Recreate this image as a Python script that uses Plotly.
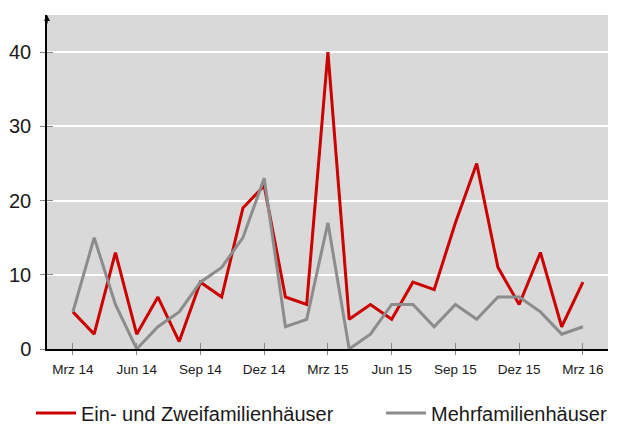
import plotly.graph_objects as go

months = list(range(25))
tick_pos = [0, 3, 6, 9, 12, 15, 18, 21, 24]
tick_labels = ["Mrz 14", "Jun 14", "Sep 14", "Dez 14", "Mrz 15", "Jun 15", "Sep 15", "Dez 15", "Mrz 16"]
ein_zwei = [5, 2, 13, 2, 7, 1, 9, 7, 19, 22, 7, 6, 40, 4, 6, 4, 9, 8, 17, 25, 11, 6, 13, 3, 9]
mehr = [5, 15, 6, 0, 3, 5, 9, 11, 15, 23, 3, 4, 17, 0, 2, 6, 6, 3, 6, 4, 7, 7, 5, 2, 3]
y_ticks = [0, 10, 20, 30, 40]

FONT = "Liberation Sans"
XR = [-1.22, 25.18]
YR = [0, 45]
W, H = 611, 418  # page body adds an 8px offset

fig = go.Figure()
fig.add_trace(go.Scatter(x=months, y=ein_zwei, mode="lines", name="Ein- und Zweifamilienhäuser",
                         line=dict(color="#cc0000", width=3), legend="legend"))
fig.add_trace(go.Scatter(x=months, y=mehr, mode="lines", name="Mehrfamilienhäuser",
                         line=dict(color="#8c8c8c", width=3), legend="legend2"))
# helper trace for the overlay axes that carry the inner half of the tick marks
fig.add_trace(go.Scatter(x=[months[0]], y=[mehr[0]], xaxis="x2", yaxis="y2", mode="markers",
                         marker=dict(opacity=0), showlegend=False, hoverinfo="skip"))

leg_common = dict(orientation="h", yref="container", y=1 - 405 / H, yanchor="middle",
                  xref="container", xanchor="left", font=dict(size=20, family=FONT, color="#1a1a1a"),
                  bgcolor="rgba(0,0,0,0)", itemwidth=40)

fig.update_layout(
    width=W, height=H,
    margin=dict(l=39, r=11, t=7, b=77),
    plot_bgcolor="#d9d9d9", paper_bgcolor="white",
    font=dict(family=FONT, color="#1a1a1a"),
    showlegend=True,
    legend=dict(x=23 / W, **leg_common),
    legend2=dict(x=373 / W, **leg_common),
    xaxis=dict(range=XR, tickvals=tick_pos, ticktext=tick_labels, automargin=False,
               showgrid=False, zeroline=False, showline=True, linecolor="black", linewidth=1.5,
               ticks="outside", ticklen=4, tickwidth=1, tickcolor="#888888",
               ticklabelstandoff=3, tickfont=dict(size=13.5, family=FONT)),
    yaxis=dict(range=YR, tickvals=y_ticks, showgrid=True, gridcolor="white", gridwidth=2,
               automargin=False, zeroline=False, showline=True, linecolor="black", linewidth=1.5,
               ticks="outside", ticklen=5, tickwidth=1, tickcolor="#888888",
               ticklabelstandoff=5, tickfont=dict(size=20, family=FONT)),
    xaxis2=dict(overlaying="x", range=XR, tickvals=tick_pos, showticklabels=False, automargin=False,
                showgrid=False, zeroline=False, showline=False, ticks="inside", ticklen=6,
                tickwidth=1, tickcolor="#888888", side="bottom"),
    yaxis2=dict(overlaying="y", range=YR, tickvals=y_ticks, showticklabels=False, automargin=False,
                showgrid=False, zeroline=False, showline=False, ticks="inside", ticklen=6,
                tickwidth=1, tickcolor="#888888", side="left"),
)
fig.add_annotation(xref="paper", yref="paper", x=0, y=1.0, ax=0, ay=10, axref="pixel", ayref="pixel",
                   showarrow=True, arrowhead=2, arrowsize=1, arrowwidth=1.2, arrowcolor="black", text="")

fig.write_html("out.html")
